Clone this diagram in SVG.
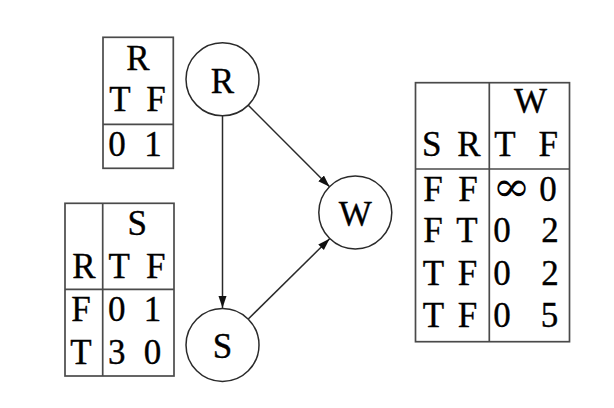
<svg xmlns="http://www.w3.org/2000/svg" width="614" height="408" viewBox="0 0 614 408">
<style>
text{font-family:"Liberation Serif","DejaVu Serif",serif;font-size:35px;fill:#000;stroke:#000;stroke-width:0.35;text-anchor:middle}
text.inf{font-family:"DejaVu Serif",serif;font-size:42px;stroke-width:0;text-anchor:start}
.tb{fill:none;stroke:#4a4a4a;stroke-width:1.7}
.nd{fill:#fff;stroke:#2a2a2a;stroke-width:1.5}
.ed{fill:none;stroke:#2a2a2a;stroke-width:1.5}
</style>
<defs>
<marker id="ah" markerUnits="userSpaceOnUse" markerWidth="13" markerHeight="9" refX="12" refY="4" orient="auto">
<path d="M0,0 L12,4 L0,8 z" fill="#111"/>
</marker>
</defs>
<rect width="614" height="408" fill="#fff"/>
<g id="connectors">
<line class="ed" x1="222.5" y1="116" x2="222.5" y2="308" marker-end="url(#ah)"/>
<line class="ed" x1="248.3" y1="105.3" x2="329.6" y2="186.8" marker-end="url(#ah)"/>
<line class="ed" x1="248.3" y1="319" x2="329.6" y2="238.8" marker-end="url(#ah)"/>
</g>
<g id="node-R">
<circle class="nd" cx="222.5" cy="79.3" r="36.5"/>
<text x="222.5" y="93">R</text>
</g>
<g id="node-S">
<circle class="nd" cx="222.5" cy="345" r="36.5"/>
<text x="222.5" y="358">S</text>
</g>
<g id="node-W">
<circle class="nd" cx="355.3" cy="212.5" r="36.5"/>
<text x="355.3" y="226">W</text>
</g>
<g id="table-R">
<rect class="tb" x="103" y="37.3" width="70.3" height="131"/>
<line class="tb" x1="103" y1="124.3" x2="173.3" y2="124.3"/>
<text x="138" y="69.5">R</text>
<text x="120" y="111">T</text>
<text x="156" y="111">F</text>
<text x="117" y="155.5">0</text>
<text x="153" y="155.5">1</text>
</g>
<g id="table-S">
<rect class="tb" x="65" y="203.3" width="109" height="172.7"/>
<line class="tb" x1="102.7" y1="203.3" x2="102.7" y2="376"/>
<line class="tb" x1="65" y1="289.3" x2="174" y2="289.3"/>
<text x="137.3" y="235">S</text>
<text x="84" y="277.5">R</text>
<text x="119.3" y="277.5">T</text>
<text x="155.8" y="277.5">F</text>
<text x="81" y="321">F</text>
<text x="116.7" y="321">0</text>
<text x="152.5" y="321">1</text>
<text x="81" y="363.5">T</text>
<text x="116.7" y="363.5">3</text>
<text x="152.5" y="363.5">0</text>
</g>
<g id="table-W">
<rect class="tb" x="415.5" y="82.7" width="154" height="259"/>
<line class="tb" x1="489.3" y1="82.7" x2="489.3" y2="341.7"/>
<line class="tb" x1="415.5" y1="169" x2="569.5" y2="169"/>
<text x="530.5" y="113.3">W</text>
<text x="431.7" y="156">S</text>
<text x="469" y="156">R</text>
<text x="505" y="156">T</text>
<text x="548.3" y="156">F</text>
<text x="433" y="200.5">F</text>
<text x="468" y="200.5">F</text>
<text class="inf" x="492.5" y="201" textLength="38" lengthAdjust="spacingAndGlyphs">∞</text>
<text x="548" y="200.5">0</text>
<text x="433" y="242">F</text>
<text x="467" y="242">T</text>
<text x="502" y="242">0</text>
<text x="550" y="242">2</text>
<text x="433.5" y="284.5">T</text>
<text x="467.5" y="284.5">F</text>
<text x="502" y="284.5">0</text>
<text x="550" y="284.5">2</text>
<text x="433.5" y="327">T</text>
<text x="467.5" y="327">F</text>
<text x="502" y="327">0</text>
<text x="549.5" y="327">5</text>
</g>
</svg>
